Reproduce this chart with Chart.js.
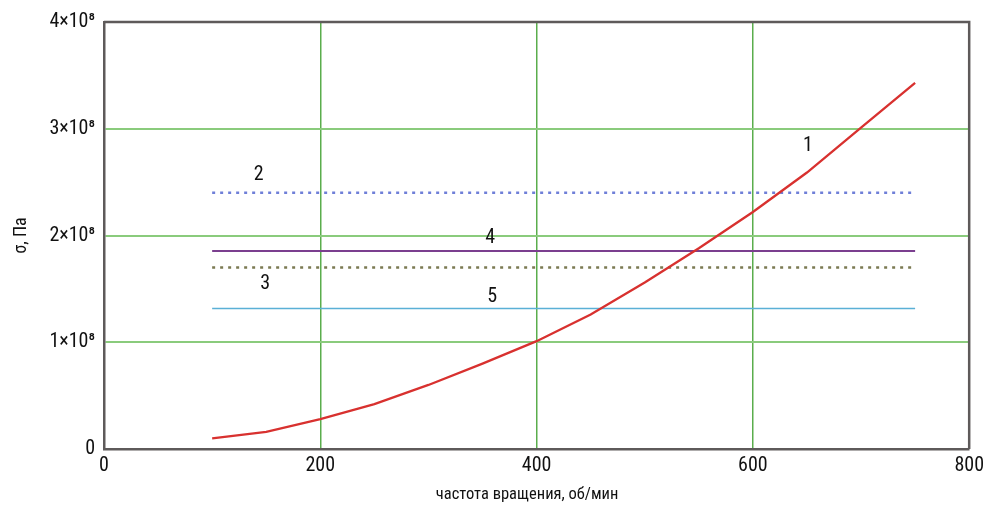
<!DOCTYPE html>
<html>
<head>
<meta charset="utf-8">
<script src="https://cdn.jsdelivr.net/npm/chart.js@4/dist/chart.umd.min.js"></script>
<style>
html,body{margin:0;padding:0;background:#fff;}
#wrap{width:989px;height:512px;}
</style>
</head>
<body>
<div id="wrap"><canvas id="c" width="989" height="512"></canvas></div>
<script>
// ---- data ----
const rpm = [100,150,200,250,300,350,400,450,500,550,600,650,700,750];
const stress1 = [1.0e7,1.6e7,2.8e7,4.2e7,6.0e7,8.0e7,1.01e8,1.26e8,1.56e8,1.88e8,2.22e8,2.59e8,3.01e8,3.43e8];
const lineRange = [100,750];
const stress2 = 2.40e8;
const stress3 = 1.70e8;
const stress4 = 1.855e8;
const stress5 = 1.315e8;
const xTicks = [0,200,400,600,800];
const yTicks = [0,1e8,2e8,3e8,4e8];
const yTickLabels = ['0','1×10⁸','2×10⁸','3×10⁸','4×10⁸'];
const curveLabels = ['1','2','3','4','5'];
const labelAnchors = [[651,2.84e8],[143,2.57e8],[149,1.55e8],[357,1.98e8],[359,1.42e8]];
const xTitle = 'частота вращения, об/мин';
const yTitle = 'σ, Па';

const FONT = '"Liberation Sans Narrow","Roboto Condensed","Open Sans",sans-serif';

const hLine = (v) => lineRange.map(x => ({x, y: v}));

const labelPlugin = {
  id:'labels',
  afterDatasetsDraw(chart){
    const {ctx, scales:{x,y}, chartArea:a} = chart;
    ctx.save();
    ctx.strokeStyle = '#5e5a5a';
    ctx.lineWidth = 2.5;
    ctx.beginPath();
    ctx.moveTo(a.left, a.top); ctx.lineTo(a.right, a.top); ctx.lineTo(a.right, a.bottom);
    ctx.stroke();
    ctx.fillStyle = '#111';
    ctx.font = '20px ' + FONT;
    ctx.textAlign = 'center';
    ctx.textBaseline = 'middle';
    curveLabels.forEach((t,i)=>{
      ctx.fillText(t, x.getPixelForValue(labelAnchors[i][0]), y.getPixelForValue(labelAnchors[i][1]));
    });
    ctx.restore();
  }
};

new Chart(document.getElementById('c'), {
  type:'line',
  data:{
    datasets:[
      {data: rpm.map((x,i)=>({x, y: stress1[i]})), borderColor:'#d8312f', borderWidth:2.3, pointRadius:0, tension:0},
      {data: hLine(stress2), borderColor:'#6f7fd8', borderWidth:2.5, borderDash:[3,5], pointRadius:0},
      {data: hLine(stress3), borderColor:'#7b7a52', borderWidth:2.5, borderDash:[3,5], pointRadius:0},
      {data: hLine(stress4), borderColor:'#7b3f8f', borderWidth:2, pointRadius:0},
      {data: hLine(stress5), borderColor:'#5ab0d6', borderWidth:1.5, pointRadius:0}
    ]
  },
  options:{
    responsive:false,
    animation:false,
    events:[],
    layout:{padding:{left:0,right:19,top:22,bottom:0}},
    plugins:{legend:{display:false}, tooltip:{enabled:false}},
    scales:{
      x:{
        type:'linear', min:0, max:800,
        afterBuildTicks(s){ s.ticks = xTicks.map(v=>({value:v})); },
        afterFit(s){ s.height = 63; },
        grid:{
          color:(c)=> (c.tick && c.tick.value>0 && c.tick.value<800) ? '#5aad4c' : 'rgba(0,0,0,0)',
          lineWidth:1.5, drawTicks:false
        },
        border:{display:true, color:'#5e5a5a', width:2.5},
        ticks:{color:'#111', font:{family:FONT,size:20}, padding:5, maxRotation:0},
        title:{display:true, text:xTitle + '\u00a0\u00a0\u00a0\u00a0\u00a0', color:'#111', font:{family:FONT,size:16.5}, padding:{top:0,bottom:7}}
      },
      y:{
        type:'linear', min:0, max:4e8,
        afterBuildTicks(s){ s.ticks = yTicks.map(v=>({value:v})); },
        afterFit(s){ s.width = 104; },
        grid:{
          color:(c)=> (c.tick && c.tick.value>0 && c.tick.value<4e8) ? '#8acb7c' : 'rgba(0,0,0,0)',
          lineWidth:2, drawTicks:false
        },
        border:{display:true, color:'#5e5a5a', width:2.5},
        ticks:{color:'#111', font:{family:FONT,size:20}, padding:9,
          callback:(v)=> yTickLabels[yTicks.indexOf(v)] },
        title:{display:true, text:yTitle, color:'#111', font:{family:FONT,size:18}, padding:{top:11,bottom:0}}
      }
    }
  },
  plugins:[labelPlugin]
});
</script>
</body>
</html>
